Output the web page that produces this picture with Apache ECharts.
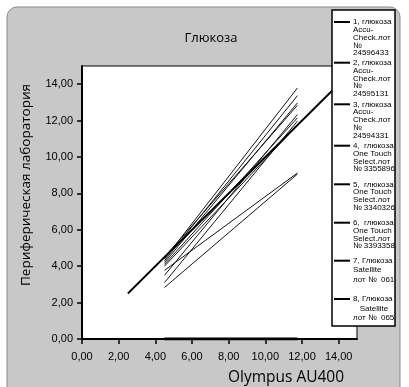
<!DOCTYPE html>
<html><head><meta charset="utf-8">
<script src="https://cdn.jsdelivr.net/npm/echarts@6/dist/echarts.min.js"></script>
<style>html,body{margin:0;padding:0;background:#fff}#c{width:409px;height:387px}</style>
</head><body><div id="c"></div>
<script>
const chartTitle = 'Глюкоза';
const xTitle = 'Olympus AU400';
const yTitle = 'Периферическая лаборатория';
const tickValues = [0, 2, 4, 6, 8, 10, 12, 14];

// legend texts (one array of lines per entry)
const legendLines = [
  ['1, глюкоза', 'Accu-', 'Check.лот', '№', '24596433'],
  ['2, глюкоза', 'Accu-', 'Check.лот', '№', '24595131'],
  ['3, глюкоза', 'Accu-', 'Check.лот', '№', '24594331'],
  ['4,  глюкоза', 'One Touch', 'Select.лот', '№ 3355896'],
  ['5,  глюкоза', 'One Touch', 'Select.лот', '№ 3340326'],
  ['6,  глюкоза', 'One Touch', 'Select.лот', '№ 3393358'],
  ['7, Глюкоза', 'Satellite', 'лот №  061'],
  ['8, Глюкоза', '   Satellite', 'лот №  065']
];

// regression lines: x range and y at both ends
const lineX = [4.5, 11.75];
const lineStartY = [4.40, 4.30, 4.20, 4.50, 3.50, 4.10, 3.10, 4.00, 3.77, 2.83];
const lineEndY   = [13.79, 13.37, 12.97, 12.84, 12.33, 12.15, 11.97, 11.75, 9.12, 9.06];
// identity line and zero line
const identityLine = [[2.5, 2.5], [15, 15]];
const zeroLine = [[4.5, 0], [11.75, 0]];

const names = legendLines.map(l => l.join(' '));
const series = [];
lineStartY.forEach((y0, i) => {
  series.push({
    name: i < names.length ? names[i] : 'line ' + (i + 1),
    type: 'line', symbol: 'none', silent: true,
    data: [[lineX[0], y0], [lineX[1], lineEndY[i]]],
    lineStyle: {color: '#151515', width: 1}
  });
});
series.push({name: 'identity', type: 'line', symbol: 'none', silent: true, data: identityLine,
  lineStyle: {color: '#000', width: 1.8}});
series.push({name: 'zero', type: 'line', symbol: 'none', silent: true, data: zeroLine,
  lineStyle: {color: '#000', width: 3}});

// legend block (drawn as graphic elements)
const legendFirstY = [22, 62.7, 104.3, 145.7, 184.3, 222.7, 260.7, 299];
const legendLH = [7.8, 7.8, 7.8, 7.8, 7.8, 7.8, 9.3, 9.3];
const legendEls = [{type: 'rect', z: 100, shape: {x: 332, y: 10, width: 63, height: 316},
  style: {fill: '#fff', stroke: '#000', lineWidth: 1.5}}];
legendLines.forEach((lines, i) => {
  legendEls.push({type: 'line', z: 101, shape: {x1: 334, y1: legendFirstY[i], x2: 350, y2: legendFirstY[i]},
    style: {stroke: '#000', lineWidth: 2}});
  legendEls.push({type: 'text', z: 101, x: 353, y: legendFirstY[i] - legendLH[i] / 2,
    style: {text: lines.join('\n'), font: '8px "Liberation Sans"', lineHeight: legendLH[i],
      fill: '#000', textAlign: 'left', textVerticalAlign: 'top'}});
});

const fmt = v => v.toFixed(2).replace('.', ',');

const chart = echarts.init(document.getElementById('c'), null, {renderer: 'canvas'});
chart.setOption({
  animation: false,
  backgroundColor: 'transparent',
  title: {text: chartTitle, left: 211, top: 32, padding: 0, textAlign: 'center',
    textStyle: {fontFamily: 'Open Sans', fontSize: 13, fontWeight: 'normal', color: '#000'}},
  graphic: {
    z: 100,
    elements: [
      {type: 'rect', z: -10, zlevel: 0, shape: {x: 7, y: 7, width: 393, height: 400, r: 10},
        style: {fill: '#c8c8c8', stroke: '#8a8a8a', lineWidth: 1}},
      {type: 'group', z: 100, children: legendEls},
      {type: 'text', z: 100, x: 26, y: 185, rotation: Math.PI / 2,
        style: {text: yTitle, font: '13.5px "Open Sans"', fill: '#000', textAlign: 'center', textVerticalAlign: 'middle'}},
      {type: 'text', z: 100, x: 286, y: 378,
        style: {text: xTitle, font: '15.5px "Open Sans"', fill: '#000', textAlign: 'center', textVerticalAlign: 'middle'}}
    ]
  },
  grid: {left: 82, top: 66, right: 52, bottom: 48, show: true, backgroundColor: '#fff',
    borderColor: '#000', borderWidth: 1},
  xAxis: {type: 'value', min: 0, max: 15, interval: 1,
    splitLine: {show: false},
    axisLine: {show: true, onZero: false, lineStyle: {color: '#000', width: 2}},
    axisTick: {show: true, length: 5, customValues: tickValues, lineStyle: {color: '#000', width: 1.5}},
    axisLabel: {customValues: tickValues, formatter: fmt, margin: 12, color: '#000',
      fontFamily: 'Liberation Sans', fontSize: 11}},
  yAxis: {type: 'value', min: 0, max: 15, interval: 1,
    splitLine: {show: false},
    axisLine: {show: true, onZero: false, lineStyle: {color: '#000', width: 2}},
    axisTick: {show: true, length: 5, customValues: tickValues, lineStyle: {color: '#000', width: 1.5}},
    axisLabel: {customValues: tickValues, formatter: fmt, margin: 9, color: '#000',
      fontFamily: 'Liberation Sans', fontSize: 11}},
  series: series
});
</script></body></html>
